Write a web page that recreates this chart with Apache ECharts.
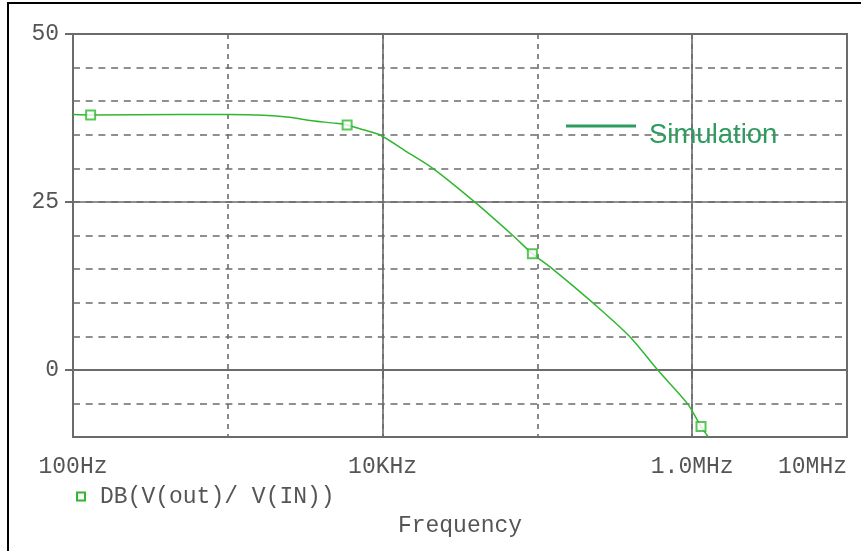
<!DOCTYPE html>
<html><head><meta charset="utf-8">
<script src="https://cdn.jsdelivr.net/npm/echarts@6/dist/echarts.min.js"></script>
<style>
html,body{margin:0;padding:0;background:#fff;}
#frame{position:absolute;left:7px;top:2px;width:854px;height:549px;border-left:2px solid #000;border-top:2px solid #000;box-sizing:border-box;}
#chart{position:absolute;left:0;top:0;width:861px;height:551px;}
</style></head><body>
<div id="frame"></div><div id="chart"></div>
<script>
// ---- data ----
const freqHz = [100, 130, 500, 1000, 1700, 2500, 3500, 5000, 5900, 7500, 9570, 14000, 21100, 39300, 69400, 92800, 125600, 227500, 393000, 597000, 929000, 1140000, 1270000];
const gainDb = [38.0, 37.95, 38.0, 38.0, 37.9, 37.6, 37.1, 36.7, 36.46, 35.74, 35.0, 32.6, 30.0, 25.0, 20.0, 17.3, 15.0, 10.0, 5.0, 0.0, -5.0, -8.42, -10.0];
const markerFreqHz = [130, 5900, 92800, 1140000];
const markerGainDb = [37.95, 36.46, 17.3, -8.42];
const xTickValues = [100, 10000, 1000000, 10000000];
const xTickLabels = ['100Hz', '10KHz', '1.0MHz', '10MHz'];
const yTickValues = [0, 25, 50];
const yTickLabels = ['0', '25', '50'];
const traceName = 'DB(V(out)/ V(IN))';
const noteName = 'Simulation';
const xTitle = 'Frequency';

// ---- styles ----
const MONO = '"Liberation Mono", "DejaVu Sans Mono", monospace';
const FS = 23;
const TXT = '#555555';
const GRID = '#6b6b6b';
const TRACE = '#2fb82f';
const NOTE = '#2e9b5f';

const curve = freqHz.map((f, i) => [f, gainDb[i]]);
const markers = markerFreqHz.map((f, i) => [f, markerGainDb[i]]);

function xLabel(v) {
  const i = xTickValues.findIndex(t => Math.abs(Math.log10(t) - Math.log10(v)) < 1e-6);
  if (i < 0) return '';
  return i === xTickValues.length - 1 ? '{r|' + xTickLabels[i] + '}' : xTickLabels[i];
}
function yLabel(v) {
  const i = yTickValues.indexOf(v);
  return i < 0 ? '' : yTickLabels[i];
}

const chart = echarts.init(document.getElementById('chart'));
chart.setOption({
  animation: false,
  backgroundColor: 'transparent',
  grid: { left: 73, right: 14, top: 34, bottom: 114, show: true, borderColor: GRID, borderWidth: 2, backgroundColor: 'transparent' },
  xAxis: [
    { type: 'log', logBase: 10, min: 100, max: 10000000, position: 'bottom',
      axisLine: { show: true, lineStyle: { color: GRID, width: 2 } },
      axisTick: { show: false }, axisLabel: { show: false },
      splitLine: { show: true, lineStyle: { color: GRID, width: 1.6, type: [5, 5] } } },
    { type: 'log', logBase: 100, min: 100, max: 10000000, position: 'bottom',
      name: xTitle, nameLocation: 'middle', nameGap: 77,
      nameTextStyle: { fontFamily: MONO, fontSize: FS, color: TXT },
      axisLine: { show: false },
      axisTick: { show: true, inside: false, length: 8, lineStyle: { color: GRID, width: 2 } },
      axisLabel: { show: true, margin: 18, fontFamily: MONO, fontSize: FS, color: TXT, formatter: xLabel,
        rich: { r: { fontFamily: MONO, fontSize: FS, color: TXT, padding: [0, 69, 0, 0] } } },
      splitLine: { show: true, lineStyle: { color: GRID, width: 1.6, type: 'solid' } } }
  ],
  yAxis: [
    { type: 'value', min: -10, max: 50, interval: 5, position: 'left',
      axisLine: { show: true, lineStyle: { color: GRID, width: 2 } },
      axisTick: { show: false }, axisLabel: { show: false },
      splitLine: { show: true, lineStyle: { color: GRID, width: 1.6, type: [7, 5.7] } } },
    { type: 'value', min: -10, max: 50, position: 'left',
      axisLine: { show: false },
      axisTick: { show: true, length: 8, customValues: yTickValues, lineStyle: { color: GRID, width: 2 } },
      axisLabel: { show: true, margin: 14, customValues: yTickValues, formatter: yLabel, fontFamily: MONO, fontSize: FS, color: TXT },
      splitLine: { show: true, lineStyle: { color: GRID, width: 1.6, type: 'solid' } } }
  ],
  legend: [
    { left: 76, top: 485, padding: 0, selectedMode: false, itemWidth: 8, itemHeight: 8,
      data: [{ name: traceName, icon: 'rect', itemStyle: { color: '#ffffff', borderColor: TRACE, borderWidth: 2 } }],
      textStyle: { fontFamily: MONO, fontSize: FS, color: TXT, padding: [0, 0, 0, 10] } },
    { left: 566, top: 121, padding: 0, selectedMode: false, itemWidth: 70, itemHeight: 21, symbolKeepAspect: false,
      data: [{ name: noteName, icon: 'path://M0,0L70,0L70,3L0,3Z M0,20.9L0.05,20.9L0.05,21L0,21Z', itemStyle: { color: NOTE } }],
      textStyle: { fontFamily: '"Liberation Sans", Arial, sans-serif', fontSize: 27.5, color: NOTE, padding: [0, 0, 0, 8] } }
  ],
  series: [
    { name: traceName, type: 'line', xAxisIndex: 0, yAxisIndex: 0, data: curve, symbol: 'none',
      smooth: 0.3,
      lineStyle: { color: TRACE, width: 1.5 }, itemStyle: { color: TRACE }, z: 3 },
    { name: traceName, type: 'scatter', xAxisIndex: 0, yAxisIndex: 0, data: markers, symbol: 'rect', symbolSize: 9,
      itemStyle: { color: '#ffffff', borderColor: TRACE, borderWidth: 2 }, z: 4 },
    { name: noteName, type: 'line', xAxisIndex: 0, yAxisIndex: 0, data: [],
      lineStyle: { color: NOTE, width: 3 }, itemStyle: { color: NOTE } }
  ]
});
</script>
</body></html>
